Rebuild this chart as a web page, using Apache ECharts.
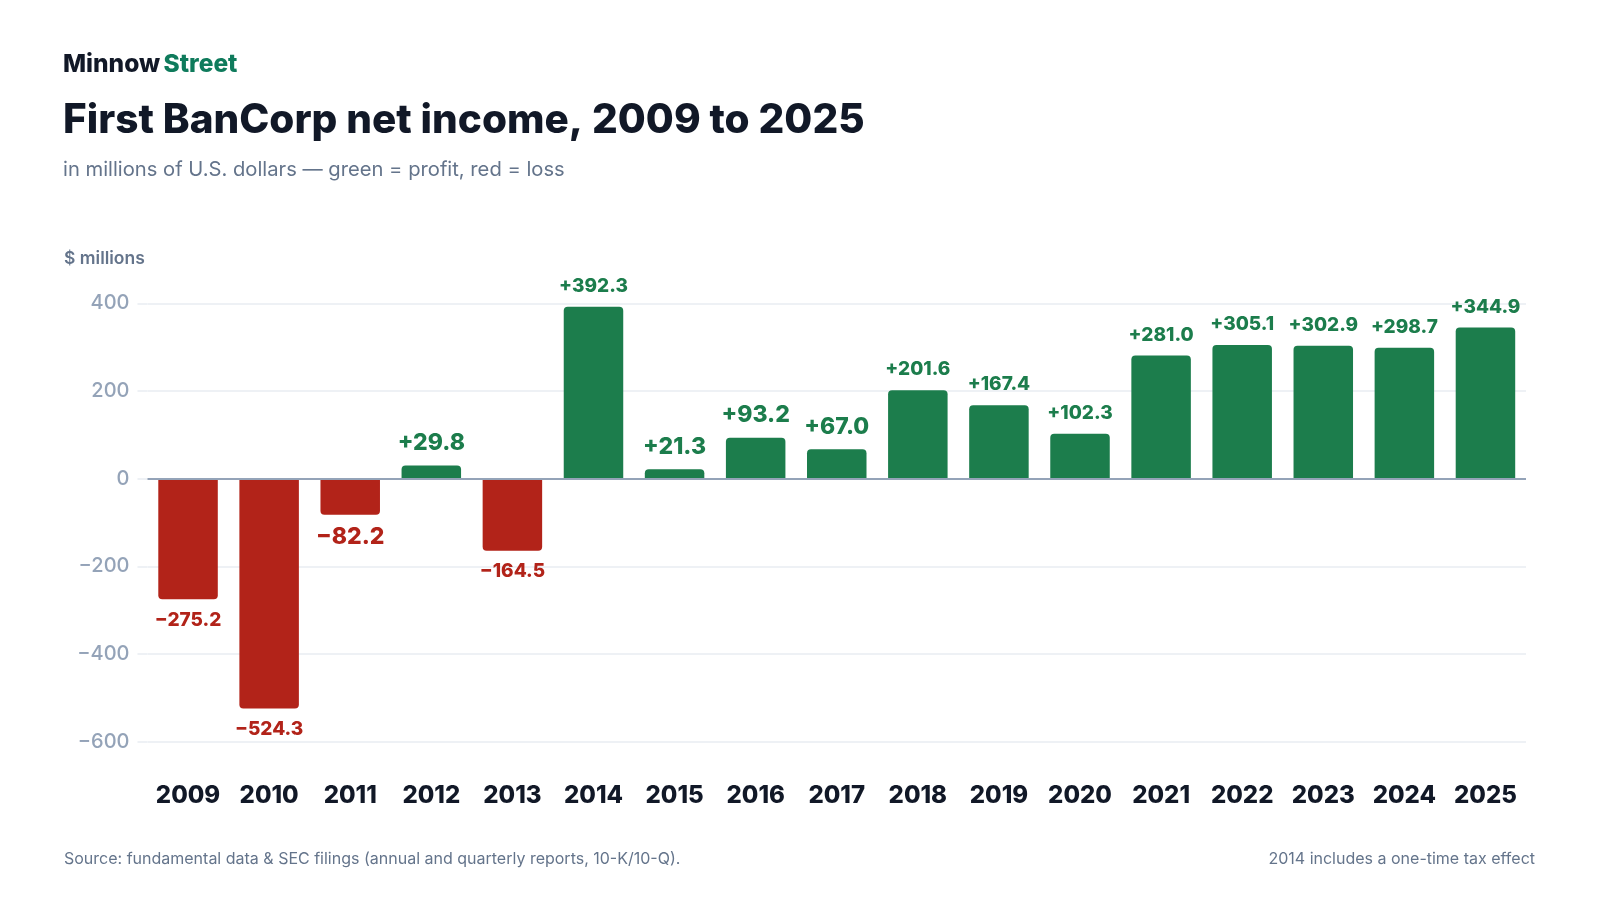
<!DOCTYPE html>
<html>
<head>
<meta charset="utf-8">
<script src="https://cdn.jsdelivr.net/npm/echarts@6/dist/echarts.min.js"></script>
<style>
  html, body { margin: 0; padding: 0; background: #fff; }
  #chart { width: 1600px; height: 900px; }
</style>
</head>
<body>
<div id="chart"></div>
<script>
var years = ['2009', '2010', '2011', '2012', '2013', '2014', '2015', '2016', '2017',
             '2018', '2019', '2020', '2021', '2022', '2023', '2024', '2025'];
var netIncome = [-275.2, -524.3, -82.2, 29.8, -164.5, 392.3, 21.3, 93.2, 67.0,
                 201.6, 167.4, 102.3, 281.0, 305.1, 302.9, 298.7, 344.9];
var yTicks = [-600, -400, -200, 0, 200, 400];

var GREEN = '#1c7d4c';
var RED = '#b22319';
var FONT = 'Inter, "Noto Sans", sans-serif';

function fmt(v) {
    var s = Math.abs(v).toFixed(1);
    return (v < 0 ? '\u2212' : '+') + s;
}

var barData = netIncome.map(function (v) {
    var neg = v < 0;
    var txt = fmt(v);
    return {
        value: v,
        itemStyle: {
            color: neg ? RED : GREEN,
            borderRadius: neg ? [0, 0, 4, 4] : [4, 4, 0, 0]
        },
        label: {
            position: neg ? 'bottom' : 'top',
            color: neg ? RED : GREEN,
            fontSize: txt.length <= 5 ? 23 : 19
        }
    };
});

var dom = document.getElementById('chart');
var myChart = echarts.init(dom);

var option = {
    backgroundColor: '#ffffff',
    animation: false,
    textStyle: { fontFamily: FONT },
    grid: { left: 147.5, right: 74, top: 303.3, bottom: 158.3, containLabel: false },
    graphic: [
        {
            type: 'text', left: 63, top: 52,
            style: {
                text: '{a|Minnow} {b|Street}',
                rich: {
                    a: { fontFamily: FONT, fontSize: 24.5, fontWeight: 800, fill: '#111827' },
                    b: { fontFamily: FONT, fontSize: 24.5, fontWeight: 800, fill: '#0f7b5c' }
                }
            }
        },
        {
            type: 'text', left: 63, top: 100,
            style: {
                text: 'First BanCorp net income, 2009 to 2025',
                font: '800 40.5px ' + FONT, fill: '#111827'
            }
        },
        {
            type: 'text', left: 63, top: 160,
            style: {
                text: 'in millions of U.S. dollars \u2014 green = profit, red = loss',
                font: '20.2px ' + FONT, fill: '#64748b'
            }
        },
        {
            type: 'text', left: 64, top: 250,
            style: {
                text: '$ millions',
                font: '600 17.5px ' + FONT, fill: '#64748b'
            }
        },
        {
            type: 'text', left: 64, top: 851,
            style: {
                text: 'Source: fundamental data & SEC filings (annual and quarterly reports, 10-K/10-Q).',
                font: '16px ' + FONT, fill: '#64748b'
            }
        },
        {
            type: 'text', right: 65, top: 851,
            style: {
                text: '2014 includes a one-time tax effect',
                font: '16px ' + FONT, fill: '#64748b'
            }
        }
    ],
    xAxis: {
        type: 'category',
        data: years,
        axisLine: { show: false, onZero: false },
        axisTick: { show: false },
        axisLabel: {
            interval: 0,
            margin: 42,
            fontSize: 24,
            fontWeight: 800,
            color: '#111827',
            fontFamily: FONT
        }
    },
    yAxis: {
        type: 'value',
        min: yTicks[0],
        max: yTicks[yTicks.length - 1],
        interval: 200,
        axisLine: { show: false },
        axisTick: { show: true, length: 10, lineStyle: { color: '#eef1f5', width: 2 } },
        splitLine: { lineStyle: { color: '#eef1f5', width: 2 } },
        axisLabel: {
            margin: 18,
            fontSize: 20,
            fontWeight: 500,
            color: '#94a3b8',
            fontFamily: FONT,
            formatter: function (v) { return String(v).replace('-', '\u2212'); }
        }
    },
    series: [
        {
            type: 'bar',
            data: barData,
            barWidth: 59.5,
            label: {
                show: true,
                distance: 11,
                fontWeight: 800,
                fontFamily: FONT,
                formatter: function (p) { return fmt(p.value); }
            },
            markLine: {
                silent: true,
                symbol: ['none', 'none'],
                label: { show: false },
                lineStyle: { color: '#94a3b8', width: 2, type: 'solid' },
                data: [{ yAxis: 0 }]
            }
        }
    ]
};

myChart.setOption(option, true);
</script>
</body>
</html>
